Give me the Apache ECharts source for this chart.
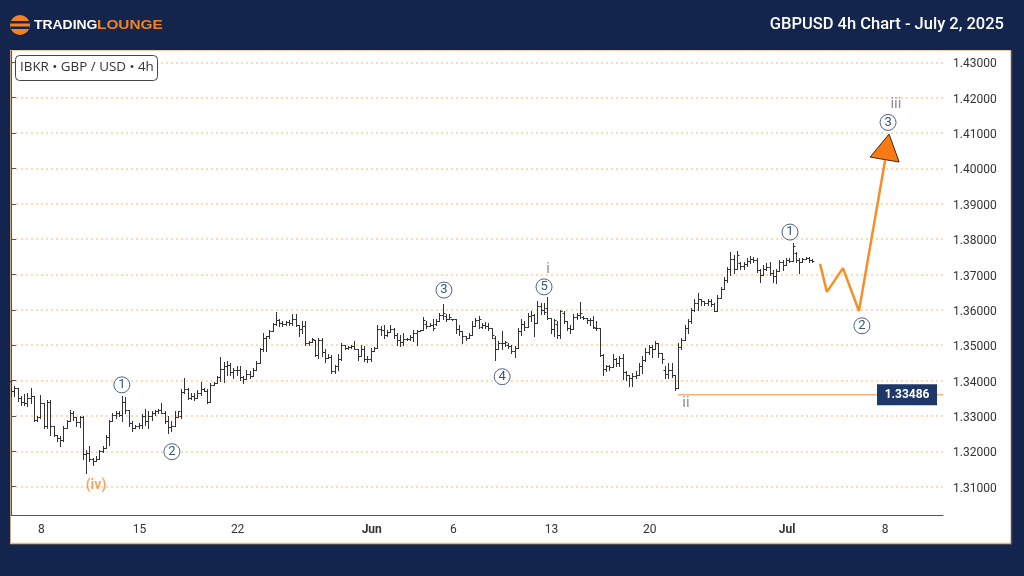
<!DOCTYPE html>
<html>
<head>
<meta charset="utf-8">
<style>html,body{margin:0;padding:0;background:#13254c}#container{width:1024px;height:576px}</style>
<script src="https://cdn.jsdelivr.net/npm/echarts@6/dist/echarts.min.js"></script>
</head>
<body>
<div id="container"></div>
<script>
// price ticks on the right
let priceTicks = [1.31,1.32,1.33,1.34,1.35,1.36,1.37,1.38,1.39,1.40,1.41,1.42,1.43];
// date labels, position counted in 4h bars
let dateBars = [9.3,39.3,69.3,110.3,135.3,165.3,195.3,237.3,267.3];
let dateLabels = ['8','15','22','Jun','6','13','20','Jul','8'];
// open, high, low, close for each 4h bar
let ohlc = [
[1.3398,1.3398,1.3356,1.3372],[1.3372,1.3384,1.3356,1.3378],[1.3378,1.3378,1.3342,1.3352],[1.3352,1.3356,1.3332,1.3340],
[1.3340,1.3361,1.3332,1.3336],[1.3336,1.3365,1.3327,1.3352],[1.3352,1.3378,1.3337,1.3356],[1.3356,1.3356,1.3285,1.3290],
[1.3290,1.3299,1.3285,1.3296],[1.3296,1.3358,1.3294,1.3337],[1.3337,1.3337,1.3266,1.3271],[1.3271,1.3346,1.3266,1.3340],
[1.3340,1.3344,1.3247,1.3271],[1.3271,1.3271,1.3243,1.3247],[1.3247,1.3247,1.3228,1.3238],[1.3238,1.3243,1.3214,1.3233],
[1.3233,1.3271,1.3228,1.3266],[1.3266,1.3290,1.3266,1.3285],[1.3285,1.3318,1.3285,1.3309],[1.3309,1.3313,1.3290,1.3296],
[1.3296,1.3296,1.3271,1.3282],[1.3282,1.3299,1.3268,1.3296],[1.3296,1.3299,1.3177,1.3192],[1.3192,1.3205,1.3139,1.3195],
[1.3195,1.3214,1.3172,1.3177],[1.3177,1.3181,1.3162,1.3172],[1.3172,1.3186,1.3172,1.3179],[1.3179,1.3205,1.3177,1.3200],
[1.3200,1.3214,1.3199,1.3210],[1.3210,1.3247,1.3210,1.3240],[1.3240,1.3290,1.3219,1.3285],[1.3285,1.3309,1.3285,1.3304],
[1.3304,1.3313,1.3295,1.3309],[1.3309,1.3313,1.3299,1.3304],[1.3304,1.3356,1.3285,1.3340],[1.3340,1.3354,1.3309,1.3318],
[1.3318,1.3318,1.3271,1.3280],[1.3280,1.3285,1.3257,1.3266],[1.3266,1.3275,1.3266,1.3271],[1.3271,1.3280,1.3266,1.3275],
[1.3275,1.3306,1.3266,1.3299],[1.3299,1.3320,1.3275,1.3285],[1.3285,1.3313,1.3266,1.3299],[1.3299,1.3313,1.3290,1.3309],
[1.3309,1.3318,1.3304,1.3313],[1.3313,1.3320,1.3309,1.3318],[1.3318,1.3337,1.3309,1.3309],[1.3309,1.3313,1.3280,1.3287],
[1.3287,1.3299,1.3252,1.3268],[1.3268,1.3285,1.3257,1.3271],[1.3271,1.3313,1.3271,1.3296],[1.3296,1.3315,1.3296,1.3313],
[1.3299,1.3375,1.3294,1.3368],[1.3368,1.3406,1.3365,1.3375],[1.3375,1.3379,1.3348,1.3352],[1.3352,1.3365,1.3348,1.3356],
[1.3356,1.3365,1.3346,1.3352],[1.3352,1.3373,1.3351,1.3365],[1.3365,1.3395,1.3360,1.3375],[1.3375,1.3379,1.3370,1.3372],
[1.3372,1.3375,1.3337,1.3340],[1.3340,1.3393,1.3340,1.3387],[1.3387,1.3395,1.3387,1.3392],[1.3392,1.3414,1.3392,1.3410],
[1.3410,1.3468,1.3398,1.3432],[1.3432,1.3452,1.3395,1.3440],[1.3440,1.3455,1.3417,1.3445],[1.3445,1.3450,1.3417,1.3425],
[1.3425,1.3436,1.3408,1.3430],[1.3430,1.3440,1.3417,1.3430],[1.3430,1.3441,1.3403,1.3410],[1.3410,1.3412,1.3393,1.3405],
[1.3405,1.3431,1.3405,1.3420],[1.3420,1.3426,1.3408,1.3414],[1.3414,1.3436,1.3412,1.3430],[1.3430,1.3455,1.3430,1.3450],
[1.3450,1.3492,1.3450,1.3488],[1.3488,1.3535,1.3483,1.3520],[1.3520,1.3525,1.3483,1.3525],[1.3525,1.3544,1.3521,1.3540],
[1.3540,1.3563,1.3540,1.3561],[1.3561,1.3593,1.3558,1.3570],[1.3570,1.3573,1.3554,1.3563],[1.3563,1.3568,1.3554,1.3560],
[1.3560,1.3568,1.3558,1.3566],[1.3566,1.3571,1.3558,1.3562],[1.3562,1.3589,1.3558,1.3575],[1.3575,1.3587,1.3554,1.3558],
[1.3558,1.3558,1.3525,1.3545],[1.3545,1.3568,1.3535,1.3555],[1.3555,1.3568,1.3502,1.3505],[1.3505,1.3511,1.3502,1.3509],
[1.3509,1.3521,1.3509,1.3518],[1.3514,1.3516,1.3469,1.3472],[1.3472,1.3521,1.3464,1.3515],[1.3515,1.3521,1.3469,1.3480],
[1.3480,1.3488,1.3452,1.3464],[1.3464,1.3474,1.3464,1.3468],[1.3468,1.3472,1.3422,1.3428],[1.3428,1.3445,1.3422,1.3440],
[1.3440,1.3474,1.3431,1.3460],[1.3460,1.3507,1.3459,1.3500],[1.3500,1.3502,1.3488,1.3492],[1.3492,1.3497,1.3488,1.3494],
[1.3494,1.3502,1.3492,1.3498],[1.3498,1.3511,1.3488,1.3490],[1.3490,1.3490,1.3459,1.3470],[1.3470,1.3502,1.3469,1.3490],
[1.3490,1.3497,1.3455,1.3462],[1.3462,1.3469,1.3453,1.3460],[1.3460,1.3492,1.3455,1.3485],[1.3485,1.3495,1.3485,1.3492],
[1.3492,1.3558,1.3492,1.3545],[1.3545,1.3554,1.3530,1.3542],[1.3542,1.3558,1.3521,1.3530],[1.3530,1.3544,1.3525,1.3538],
[1.3538,1.3558,1.3538,1.3545],[1.3545,1.3549,1.3521,1.3530],[1.3530,1.3535,1.3502,1.3515],[1.3515,1.3530,1.3497,1.3510],
[1.3510,1.3535,1.3502,1.3518],[1.3518,1.3521,1.3516,1.3519],[1.3519,1.3530,1.3516,1.3522],[1.3522,1.3544,1.3511,1.3535],
[1.3535,1.3544,1.3502,1.3540],[1.3540,1.3544,1.3540,1.3543],[1.3543,1.3580,1.3543,1.3572],[1.3560,1.3568,1.3549,1.3555],
[1.3555,1.3563,1.3554,1.3558],[1.3558,1.3573,1.3544,1.3550],[1.3560,1.3573,1.3558,1.3568],[1.3568,1.3591,1.3568,1.3585],
[1.3585,1.3618,1.3573,1.3590],[1.3582,1.3587,1.3568,1.3575],[1.3575,1.3587,1.3573,1.3580],[1.3574,1.3575,1.3572,1.3573],
[1.3573,1.3573,1.3535,1.3545],[1.3545,1.3558,1.3530,1.3540],[1.3540,1.3540,1.3507,1.3525],[1.3525,1.3525,1.3516,1.3520],
[1.3520,1.3535,1.3520,1.3530],[1.3530,1.3568,1.3530,1.3555],[1.3555,1.3577,1.3554,1.3572],[1.3572,1.3582,1.3549,1.3575],
[1.3552,1.3563,1.3549,1.3558],[1.3558,1.3566,1.3549,1.3555],[1.3555,1.3563,1.3544,1.3550],
[1.3548,1.3549,1.3521,1.3530],[1.3521,1.3525,1.3457,1.3490],[1.3490,1.3511,1.3488,1.3505],[1.3505,1.3540,1.3488,1.3505],
[1.3505,1.3511,1.3497,1.3508],[1.3502,1.3507,1.3492,1.3498],[1.3498,1.3502,1.3478,1.3485],[1.3485,1.3497,1.3466,1.3492],
[1.3492,1.3549,1.3492,1.3540],[1.3540,1.3573,1.3530,1.3560],[1.3560,1.3568,1.3542,1.3552],[1.3552,1.3591,1.3552,1.3582],
[1.3582,1.3596,1.3568,1.3585],[1.3585,1.3587,1.3525,1.3563],[1.3563,1.3624,1.3563,1.3610],[1.3610,1.3620,1.3587,1.3600],
[1.3600,1.3620,1.3587,1.3595],[1.3605,1.3637,1.3575,1.3578],[1.3578,1.3578,1.3535,1.3545],[1.3545,1.3573,1.3525,1.3570],
[1.3560,1.3568,1.3521,1.3530],[1.3530,1.3601,1.3521,1.3598],[1.3590,1.3596,1.3563,1.3568],[1.3568,1.3568,1.3542,1.3550],
[1.3550,1.3558,1.3535,1.3545],[1.3545,1.3587,1.3545,1.3580],[1.3580,1.3591,1.3573,1.3585],[1.3585,1.3622,1.3577,1.3590],
[1.3580,1.3582,1.3573,1.3576],[1.3576,1.3577,1.3563,1.3572],[1.3572,1.3577,1.3558,1.3570],[1.3570,1.3582,1.3549,1.3552],
[1.3550,1.3568,1.3544,1.3548],[1.3548,1.3549,1.3469,1.3472],[1.3472,1.3474,1.3417,1.3432],
[1.3432,1.3445,1.3426,1.3440],[1.3440,1.3445,1.3431,1.3438],[1.3438,1.3474,1.3438,1.3460],[1.3460,1.3464,1.3441,1.3450],
[1.3450,1.3469,1.3441,1.3465],[1.3465,1.3476,1.3405,1.3425],[1.3425,1.3426,1.3403,1.3415],[1.3415,1.3417,1.3386,1.3408],
[1.3408,1.3422,1.3384,1.3412],[1.3412,1.3426,1.3408,1.3415],[1.3415,1.3450,1.3415,1.3440],[1.3440,1.3469,1.3422,1.3458],[1.3458,1.3492,1.3455,1.3480],
[1.3480,1.3502,1.3474,1.3495],[1.3495,1.3502,1.3466,1.3490],[1.3490,1.3511,1.3488,1.3505],[1.3505,1.3507,1.3468,1.3478],[1.3478,1.3478,1.3450,1.3460],
[1.3430,1.3441,1.3408,1.3420],[1.3420,1.3450,1.3408,1.3430],[1.3430,1.3450,1.3410,1.3415],[1.3415,1.3417,1.3373,1.3378],
[1.3378,1.3507,1.3378,1.3495],[1.3495,1.3521,1.3490,1.3515],[1.3515,1.3558,1.3515,1.3550],[1.3550,1.3574,1.3535,1.3568],
[1.3568,1.3606,1.3563,1.3600],[1.3600,1.3631,1.3596,1.3620],[1.3620,1.3648,1.3601,1.3630],[1.3630,1.3631,1.3615,1.3625],
[1.3625,1.3626,1.3615,1.3620],[1.3620,1.3631,1.3615,1.3625],[1.3625,1.3630,1.3610,1.3618],[1.3618,1.3619,1.3596,1.3598],
[1.3598,1.3642,1.3596,1.3635],[1.3635,1.3666,1.3635,1.3660],[1.3660,1.3694,1.3660,1.3685],[1.3685,1.3722,1.3680,1.3715],
[1.3715,1.3764,1.3699,1.3745],[1.3745,1.3755,1.3703,1.3715],[1.3715,1.3767,1.3715,1.3755],[1.3733,1.3736,1.3717,1.3725],
[1.3725,1.3736,1.3717,1.3730],[1.3730,1.3746,1.3724,1.3738],[1.3738,1.3752,1.3732,1.3745],[1.3745,1.3750,1.3736,1.3742],
[1.3742,1.3746,1.3708,1.3712],[1.3712,1.3717,1.3680,1.3700],[1.3700,1.3727,1.3700,1.3715],[1.3715,1.3732,1.3713,1.3722],
[1.3722,1.3736,1.3699,1.3705],[1.3705,1.3713,1.3680,1.3695],[1.3695,1.3717,1.3675,1.3710],[1.3710,1.3741,1.3710,1.3735],
[1.3735,1.3741,1.3713,1.3728],[1.3728,1.3746,1.3728,1.3740],[1.3740,1.3746,1.3736,1.3738],[1.3738,1.3788,1.3738,1.3780],
[1.3760,1.3764,1.3736,1.3742],[1.3742,1.3746,1.3703,1.3735],[1.3735,1.3748,1.3735,1.3745],[1.3745,1.3750,1.3743,1.3747],
[1.3747,1.3750,1.3736,1.3742],[1.3742,1.3743,1.3736,1.3738]
];
// wave projection (bar, price)
let projection = [[247.4,1.3730],[249.5,1.3651],[254.4,1.3718],[259.3,1.3597],[267.3,1.4023]];
let arrowHead = [[268.5,1.4097],[262.7,1.4032],[271.6,1.4018]];
// invalidation level
let levelPrice = 1.3360;
let levelText = '1.33486';
let levelLine = [[204,levelPrice],[285,levelPrice]];
// wave labels (bar, price, text)
let circledWaves = [[33.9,1.3388,'1'],[49.2,1.3199,'2'],[132.4,1.3656,'3'],[150.2,1.3411,'4'],[163,1.3665,'5'],[238.2,1.3820,'1'],[260.2,1.3555,'2'],[268.2,1.4130,'3']];
let romanWaves = [[164.2,1.3716,'i'],[206.4,1.3335,'ii'],[270.6,1.4182,'iii']];
let orangeWaves = [[26,1.3104,'(iv)']];

let dom = document.getElementById("container");
let myChart = echarts.init(dom);

function renderBar(params, api) {
    let x = Math.round(api.coord([api.value(0), 0])[0]) + 0.5;
    let o = Math.round(api.coord([0, api.value(1)])[1]) + 0.5;
    let h = Math.round(api.coord([0, api.value(2)])[1]);
    let l = Math.round(api.coord([0, api.value(3)])[1]) + 1;
    let c = Math.round(api.coord([0, api.value(4)])[1]) + 0.5;
    let st = {stroke: '#333', lineWidth: 1};
    return {type: 'group', children: [
        {type: 'line', shape: {x1: x, y1: h, x2: x, y2: l}, style: st},
        {type: 'line', shape: {x1: x - 2, y1: o, x2: x, y2: o}, style: st},
        {type: 'line', shape: {x1: x, y1: c, x2: x + 2, y2: c}, style: st}
    ]};
}

function renderArrow(params, api) {
    if (params.dataIndex > 0) return null;
    let pts = arrowHead.map(function (p) { return api.coord(p); });
    return {type: 'polygon', shape: {points: pts}, style: {fill: '#f97a12', stroke: '#3b2a1a', lineWidth: 1}};
}

let option = {
    backgroundColor: '#13254c',
    animation: false,
    grid: {left: 11, right: 81, top: 51, bottom: 61},
    xAxis: {
        type: 'value',
        min: 0,
        max: 285,
        axisLine: {show: true, onZero: false, lineStyle: {color: '#555'}},
        axisTick: {show: false},
        splitLine: {show: false},
        axisLabel: {
            customValues: dateBars,
            margin: 9,
            color: '#333',
            fontFamily: 'Roboto',
            fontSize: 12,
            formatter: function (v) {
                let t = dateLabels[dateBars.indexOf(v)];
                return (t === 'Jun' || t === 'Jul') ? '{b|' + t + '}' : t;
            },
            rich: {b: {fontWeight: 'bold', fontFamily: 'Roboto', fontSize: 12, color: '#333'}}
        }
    },
    yAxis: {
        type: 'value',
        position: 'right',
        min: 1.3020,
        max: 1.4332,
        axisLine: {show: true, lineStyle: {color: '#555'}},
        axisTick: {show: true, customValues: priceTicks, length: 5, lineStyle: {color: '#555'}},
        axisLabel: {
            customValues: priceTicks,
            margin: 10,
            color: '#333',
            fontFamily: 'Roboto',
            fontSize: 12,
            formatter: function (v) { return '{p|' + v.toFixed(5) + '}'; },
            rich: {p: {padding: [4, 0, 0, 0], fontFamily: 'Roboto', fontSize: 12, color: '#333'}}
        },
        splitLine: {show: true, lineStyle: {type: [2, 3], width: 1.5, color: '#fbcf9f'}}
    },
    graphic: [
        {type: 'rect', z: -10, shape: {x: 10, y: 50, width: 1002, height: 494}, style: {fill: '#fff'}},
        {type: 'line', z: -9, shape: {x1: 10.5, y1: 50, x2: 10.5, y2: 544}, style: {stroke: '#c8a98c', lineWidth: 1}},
        {type: 'line', z: -9, shape: {x1: 10, y1: 50.5, x2: 1012, y2: 50.5}, style: {stroke: '#f0cfa8', lineWidth: 1}},
        {type: 'line', z: -9, shape: {x1: 10, y1: 543.5, x2: 1012, y2: 543.5}, style: {stroke: '#eeb26f', lineWidth: 1.5}},
        {type: 'line', z: -9, shape: {x1: 1011.5, y1: 50, x2: 1011.5, y2: 544}, style: {stroke: '#5a4a4a', lineWidth: 1.5}},
        // logo
        {type: 'circle', z: 100, shape: {cx: 20, cy: 25, r: 10}, style: {fill: '#f58220'}},
        {type: 'rect', z: 101, shape: {x: 10.5, y: 21, width: 19, height: 2.5}, style: {fill: '#13254c'}},
        {type: 'rect', z: 101, shape: {x: 10.5, y: 26.5, width: 19, height: 2.5}, style: {fill: '#13254c'}},
        {type: 'text', z: 100, x: 34, y: 19.5, scaleX: 1.16, style: {text: 'TRADING', font: 'bold 12px "Liberation Sans"', fill: '#fff'}},
        {type: 'text', z: 100, x: 97, y: 19.5, scaleX: 1.28, style: {text: 'LOUNGE', font: 'bold 12px "Liberation Sans"', fill: '#f58220'}},
        {type: 'text', z: 100, right: 20, top: 16, style: {text: 'GBPUSD 4h Chart - July 2, 2025', font: '500 16.5px Roboto', fill: '#fff'}},
        // source box
        {type: 'rect', z: 100, shape: {x: 15.5, y: 55.5, width: 142, height: 25, r: 4}, style: {fill: '#fff', stroke: '#444', lineWidth: 1}},
        {type: 'text', z: 101, x: 20, y: 61, style: {text: 'IBKR \u2022 GBP / USD \u2022 4h', font: '13.4px "Open Sans"', fill: '#333'}}
    ],
    series: [
        {
            type: 'custom',
            renderItem: renderBar,
            encode: {x: 0, y: [1, 2, 3, 4]},
            data: ohlc.map(function (d, i) { return [i, d[0], d[1], d[2], d[3]]; }),
            z: 3
        },
        {
            type: 'line',
            data: levelLine,
            symbol: 'none',
            lineStyle: {color: '#f2b27c', width: 1.5},
            z: 3
        },
        {
            type: 'scatter',
            data: [[274, levelPrice, levelText]],
            symbol: 'rect',
            symbolSize: [60, 21],
            itemStyle: {color: '#1c3768', opacity: 1},
            label: {show: true, position: 'inside', color: '#fff', fontWeight: 'bold', fontFamily: 'Roboto', fontSize: 12, formatter: function (p) { return p.value[2]; }},
            z: 5
        },
        {
            type: 'line',
            data: projection,
            symbol: 'none',
            lineStyle: {color: '#f58f27', width: 2.5},
            z: 4
        },
        {
            type: 'custom',
            renderItem: renderArrow,
            data: arrowHead,
            z: 5
        },
        {
            type: 'scatter',
            data: circledWaves,
            symbol: 'circle',
            symbolSize: 16,
            itemStyle: {color: '#fff', opacity: 1, borderColor: '#4a6488', borderWidth: 1},
            label: {show: true, position: 'inside', color: '#3a5578', fontFamily: 'Roboto', fontSize: 13, formatter: function (p) { return p.value[2]; }},
            z: 6
        },
        {
            type: 'scatter',
            data: romanWaves,
            symbolSize: 0,
            label: {show: true, position: 'inside', color: '#707070', fontFamily: 'Roboto', fontSize: 15, formatter: function (p) { return p.value[2]; }},
            z: 6
        },
        {
            type: 'scatter',
            data: orangeWaves,
            symbolSize: 0,
            label: {show: true, position: 'inside', color: '#f0913a', fontWeight: 'bold', fontFamily: 'Roboto', fontSize: 14, formatter: function (p) { return p.value[2]; }},
            z: 6
        }
    ]
};
myChart.setOption(option, true);
</script>
</body>
</html>
